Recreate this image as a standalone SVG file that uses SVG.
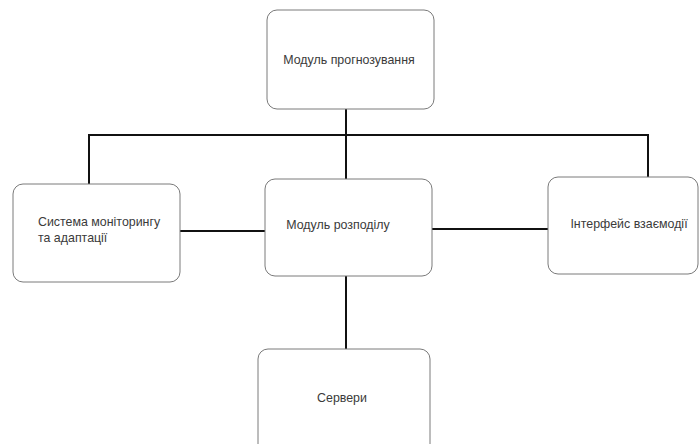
<svg xmlns="http://www.w3.org/2000/svg" width="700" height="444" viewBox="0 0 700 444">
<style>
.box{fill:#fff;stroke:#7a7a7a;stroke-width:1}
.lbl{font-family:"Liberation Sans",Arial,sans-serif;font-size:12.4px;fill:#3a3a3a}
.con{fill:none;stroke:#111;stroke-width:2}
</style>
<rect width="700" height="444" fill="#fff"/>
<g id="connectors">
<path class="con" d="M346 109 V179"/>
<path class="con" d="M89 184 V135 H648 V177"/>
<path class="con" d="M180 231 H265"/>
<path class="con" d="M432 229 H548"/>
<path class="con" d="M346 276 V349"/>
</g>
<g id="n-forecast">
<rect class="box" x="267" y="10" width="167" height="99" rx="10"/>
<text class="lbl" x="349" y="64" text-anchor="middle">Модуль прогнозування</text>
</g>
<g id="n-monitor">
<rect class="box" x="13" y="184" width="167" height="98" rx="10"/>
<text class="lbl" x="38" y="226">Система моніторингу</text>
<text class="lbl" x="38" y="242">та адаптації</text>
</g>
<g id="n-distrib">
<rect class="box" x="265" y="179" width="167" height="97" rx="10"/>
<text class="lbl" x="338" y="229" text-anchor="middle">Модуль розподілу</text>
</g>
<g id="n-interface">
<rect class="box" x="548" y="177" width="150" height="97" rx="10"/>
<text class="lbl" x="629" y="228" text-anchor="middle">Інтерфейс взаємодії</text>
</g>
<g id="n-servers">
<rect class="box" x="258" y="349" width="172" height="110" rx="10"/>
<text class="lbl" x="342" y="402" text-anchor="middle">Сервери</text>
</g>
</svg>
